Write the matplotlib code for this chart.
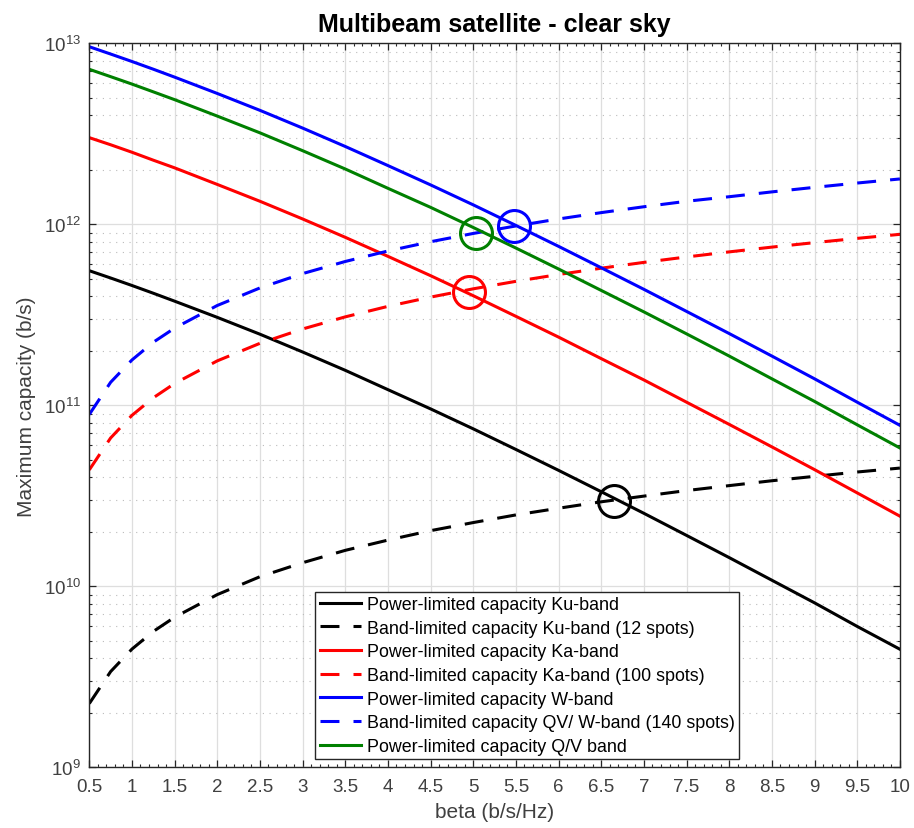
import matplotlib
matplotlib.use('Agg')
import matplotlib.pyplot as plt
from matplotlib.ticker import FixedLocator, MultipleLocator, LogLocator, NullFormatter

plt.rcParams['font.family'] = ['Liberation Sans', 'DejaVu Sans']
plt.rcParams['mathtext.default'] = 'regular'

# beta values (b/s/Hz)
beta = [0.5, 0.75, 1, 1.25, 1.5, 2, 2.5, 3, 3.5, 4, 4.5, 5, 5.5, 6, 6.5, 7, 7.5, 8, 8.5, 9, 9.5, 10]

# power-limited capacities (b/s)
power_ku = [5.54e11, 5.05e11, 4.59e11, 4.16e11, 3.76e11, 3.06e11, 2.47e11, 1.97e11, 1.56e11, 1.22e11, 9.55e10,
            7.41e10, 5.70e10, 4.37e10, 3.33e10, 2.53e10, 1.91e10, 1.44e10, 1.08e10, 8.10e9, 6.00e9, 4.49e9]
power_ka = [3.01e12, 2.75e12, 2.50e12, 2.26e12, 2.05e12, 1.66e12, 1.34e12, 1.07e12, 8.47e11, 6.65e11, 5.20e11,
            4.03e11, 3.10e11, 2.38e11, 1.81e11, 1.38e11, 1.04e11, 7.84e10, 5.89e10, 4.41e10, 3.28e10, 2.44e10]
power_w = [9.57e12, 8.72e12, 7.93e12, 7.19e12, 6.50e12, 5.28e12, 4.26e12, 3.40e12, 2.69e12, 2.11e12, 1.65e12,
           1.28e12, 9.85e11, 7.55e11, 5.75e11, 4.37e11, 3.30e11, 2.49e11, 1.87e11, 1.40e11, 1.04e11, 7.75e10]
power_qv = [7.18e12, 6.54e12, 5.95e12, 5.39e12, 4.88e12, 3.96e12, 3.20e12, 2.55e12, 2.02e12, 1.58e12, 1.24e12,
            9.60e11, 7.39e11, 5.66e11, 4.31e11, 3.28e11, 2.48e11, 1.87e11, 1.40e11, 1.05e11, 7.80e10, 5.81e10]

# band-limited capacities (b/s)
band_ku = [2.25e9, 3.38e9, 4.5e9, 5.63e9, 6.75e9, 9.0e9, 1.13e10, 1.35e10, 1.58e10, 1.8e10, 2.03e10,
           2.25e10, 2.48e10, 2.7e10, 2.93e10, 3.15e10, 3.38e10, 3.6e10, 3.83e10, 4.05e10, 4.28e10, 4.5e10]
band_ka = [4.4e10, 6.6e10, 8.8e10, 1.1e11, 1.32e11, 1.76e11, 2.2e11, 2.64e11, 3.08e11, 3.52e11, 3.96e11,
           4.4e11, 4.84e11, 5.28e11, 5.72e11, 6.16e11, 6.6e11, 7.04e11, 7.48e11, 7.92e11, 8.36e11, 8.8e11]
band_qvw = [8.9e10, 1.34e11, 1.78e11, 2.23e11, 2.67e11, 3.56e11, 4.45e11, 5.34e11, 6.23e11, 7.12e11, 8.01e11,
            8.9e11, 9.79e11, 1.07e12, 1.16e12, 1.25e12, 1.34e12, 1.42e12, 1.51e12, 1.60e12, 1.69e12, 1.78e12]

# crossing points (circled)
cross_x = [6.65, 4.95, 5.48, 5.03]
cross_y = [2.97e10, 4.25e11, 9.8e11, 9.0e11]
cross_c = ['k', 'r', 'b', '#008000']

xticks = [0.5 * i for i in range(1, 21)]
xtick_labels = ['%g' % t for t in xticks]

fig = plt.figure(figsize=(9.14, 8.29), dpi=100)
ax = fig.add_axes([0.0977, 0.0732, 0.8869, 0.8734])

lw = 2.2
dash = (0, (6.2, 4.6))
ax.plot(beta, power_ku, color='k', lw=lw, label='Power-limited capacity Ku-band')
ax.plot(beta, band_ku, color='k', lw=lw, ls=dash, label='Band-limited capacity Ku-band (12 spots)')
ax.plot(beta, power_ka, color='r', lw=lw, label='Power-limited capacity Ka-band')
ax.plot(beta, band_ka, color='r', lw=lw, ls=dash, label='Band-limited capacity Ka-band (100 spots)')
ax.plot(beta, power_w, color='b', lw=lw, label='Power-limited capacity W-band')
ax.plot(beta, band_qvw, color='b', lw=lw, ls=dash, label='Band-limited capacity QV/ W-band (140 spots)')
ax.plot(beta, power_qv, color='#008000', lw=lw, label='Power-limited capacity Q/V band')

for x, y, c in zip(cross_x, cross_y, cross_c):
    ax.plot([x], [y], 'o', ms=23, mfc='none', mec=c, mew=2.2)

ax.set_yscale('log')
ax.set_xlim(0.5, 10)
ax.set_ylim(1e9, 1e13)
ax.xaxis.set_major_locator(FixedLocator(xticks))
ax.set_xticklabels(xtick_labels)
ax.xaxis.set_minor_locator(MultipleLocator(0.1))
ax.yaxis.set_major_locator(LogLocator(base=10, numticks=10))
ax.yaxis.set_minor_locator(LogLocator(base=10, subs=range(2, 10), numticks=20))
ax.yaxis.set_minor_formatter(NullFormatter())

ax.grid(True, which='major', color='#dedede', lw=0.9, ls='-')
ax.grid(True, which='minor', axis='y', color='#bbbbbb', lw=0.8, ls=(0, (1, 5)))
ax.set_axisbelow(True)

ax.tick_params(which='both', direction='in', top=True, right=True, colors='#262626',
               labelsize=13.5, labelcolor='#404040')
ax.tick_params(which='major', length=5, width=0.9)
ax.tick_params(which='minor', length=2.4, width=0.8)
ax.tick_params(axis='x', which='major', pad=8)
ax.tick_params(axis='y', which='major', pad=6)
for s in ax.spines.values():
    s.set_color('#262626')
    s.set_linewidth(1.0)

ax.set_xlabel('beta (b/s/Hz)', fontsize=15, color='#404040', labelpad=5)
ax.set_ylabel('Maximum capacity (b/s)', fontsize=15, color='#404040', labelpad=6)
ax.set_title('Multibeam satellite - clear sky', fontsize=18, fontweight='bold', pad=9)

leg = ax.legend(loc='lower left', bbox_to_anchor=(0.279, 0.011), fontsize=12.9,
                handlelength=2.3, handletextpad=0.3, labelspacing=0.37,
                borderpad=0.25, borderaxespad=0, fancybox=False, framealpha=1)
leg.get_frame().set_edgecolor('#262626')
leg.get_frame().set_linewidth(1.0)

fig.savefig('out.png', dpi=100)
